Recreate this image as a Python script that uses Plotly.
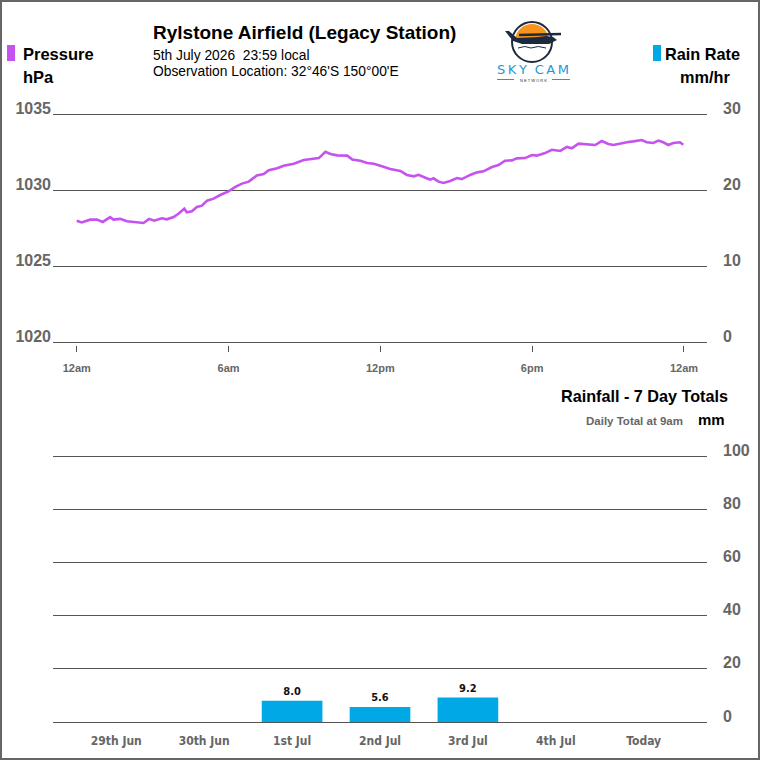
import math
import plotly.graph_objects as go

# ---------------- data ----------------
hours = [0.0, 0.2, 0.53, 0.8, 1.03, 1.32, 1.45, 1.72, 1.98, 2.24, 2.64, 2.86, 3.06, 3.36, 3.56,
         3.83, 4.02, 4.25, 4.35, 4.55, 4.75, 4.95, 5.15, 5.41, 5.67, 6.0, 6.27, 6.53, 6.8,
         7.12, 7.39, 7.59, 7.92, 8.18, 8.58, 8.97, 9.37, 9.57, 9.83, 10.03, 10.29, 10.69,
         10.89, 11.21, 11.48, 11.74, 12.0, 12.39, 12.79, 13.05, 13.32, 13.51, 13.78, 13.97,
         14.1, 14.3, 14.5, 14.76, 15.03, 15.22, 15.55, 15.82, 16.08, 16.41, 16.67, 16.93,
         17.2, 17.39, 17.72, 17.99, 18.18, 18.51, 18.78, 19.11, 19.37, 19.57, 19.83, 20.16,
         20.49, 20.75, 21.01, 21.21, 21.47, 21.8, 22.0, 22.33, 22.53, 22.79, 22.99, 23.18,
         23.38, 23.58, 23.84, 23.97]
pressure = [1027.98, 1027.87, 1028.05, 1028.05, 1027.9, 1028.22, 1028.05, 1028.1, 1027.94,
            1027.9, 1027.83, 1028.1, 1027.98, 1028.14, 1028.07, 1028.22, 1028.44, 1028.77,
            1028.53, 1028.6, 1028.88, 1028.97, 1029.3, 1029.43, 1029.67, 1029.91, 1030.2,
            1030.42, 1030.55, 1030.96, 1031.05, 1031.3, 1031.43, 1031.6, 1031.73, 1031.97,
            1032.06, 1032.1, 1032.52, 1032.37, 1032.28, 1032.26, 1032.0, 1031.93, 1031.78,
            1031.73, 1031.6, 1031.38, 1031.25, 1030.99, 1030.9, 1031.0, 1030.81, 1030.68,
            1030.77, 1030.55, 1030.46, 1030.59, 1030.79, 1030.72, 1030.99, 1031.16, 1031.23,
            1031.51, 1031.64, 1031.93, 1031.95, 1032.08, 1032.1, 1032.3, 1032.26, 1032.43,
            1032.65, 1032.57, 1032.83, 1032.74, 1033.05, 1033.0, 1032.96, 1033.22, 1033.03,
            1032.96, 1033.07, 1033.16, 1033.2, 1033.29, 1033.14, 1033.09, 1033.25, 1033.14,
            1032.96, 1033.09, 1033.14, 1032.98]
rain_rate_hours = []
rain_rate = []

time_tickvals = [0, 6, 12, 18, 24]
time_ticktext = ["12am", "6am", "12pm", "6pm", "12am"]
pressure_ticks = [1020, 1025, 1030, 1035]
rate_ticks = [0, 10, 20, 30]

days = ["29th Jun", "30th Jun", "1st Jul", "2nd Jul", "3rd Jul", "4th Jul", "Today"]
rain_totals = [0.0, 0.0, 8.0, 5.6, 9.2, 0.0, 0.0]
rain_ticks = [0, 20, 40, 60, 80, 100]

# ---------------- style ----------------
W = H = 760
PURPLE = "#c652ef"
BLUE = "#00a8e6"
NAVY = "#1c2a3e"
LOGO_BLUE = "#1e9ad6"
GRID = "#555555"
TICK = "#666666"
FONT = "Liberation Sans"
NARROW = "Liberation Sans Narrow, DejaVu Sans Condensed, Roboto Condensed, Liberation Sans"


def px(x):
    return x / W


def py(y):
    return 1 - y / H


fig = go.Figure()

fig.add_trace(go.Scatter(x=hours, y=pressure, mode="lines",
                         line=dict(color=PURPLE, width=2.6),
                         xaxis="x", yaxis="y", showlegend=False, hoverinfo="skip"))
fig.add_trace(go.Scatter(x=rain_rate_hours, y=rain_rate, mode="lines",
                         line=dict(color=BLUE, width=2),
                         xaxis="x", yaxis="y2", showlegend=False, hoverinfo="skip"))

bar_text = [f"{v:.1f}" if v > 0 else "" for v in rain_totals]
fig.add_trace(go.Bar(x=days, y=rain_totals, marker=dict(color=BLUE, line=dict(width=0)),
                     width=0.69, text=bar_text, textposition="outside",
                     textfont=dict(family=NARROW, size=11, color="#111111", weight="bold"),
                     cliponaxis=False,
                     xaxis="x2", yaxis="y3", showlegend=False, hoverinfo="skip"))

xdom = [px(53), px(707)]
ytickfont = dict(family=FONT, size=16, color=TICK, weight="bold")

# padding (in data units) so the edge gridlines are drawn inside the plot area
top_px_per = (342 - 114) / 15.0
pad_top = 0.2  # hPa
bot_px_per = (722 - 456) / 100.0
pad_bot = 1.1  # mm

fig.update_layout(
    width=W, height=H, autosize=False,
    margin=dict(l=0, r=0, t=0, b=0, pad=0, autoexpand=False),
    paper_bgcolor="white", plot_bgcolor="white",
    font=dict(family=FONT),
    xaxis=dict(domain=xdom, range=[-0.937, 24.91], tickvals=time_tickvals, ticktext=time_ticktext,
               showgrid=False, zeroline=False, showline=False,
               ticks="outside", ticklen=6, tickcolor=GRID, tickwidth=1,
               tickfont=dict(family=FONT, size=11, color=TICK, weight="bold"),
               ticklabelstandoff=7, anchor="y", automargin=False),
    yaxis=dict(domain=[py(342 + pad_top * top_px_per), py(114 - pad_top * top_px_per)],
               range=[1020 - pad_top, 1035 + pad_top], tickvals=pressure_ticks,
               showgrid=True, gridcolor=GRID, gridwidth=1, zeroline=False, showline=False,
               ticks="", tickfont=ytickfont, ticklabelstandoff=1, ticklabelshift=-6,
               anchor="x", automargin=False),
    yaxis2=dict(overlaying="y", side="right", range=[0 - 2 * pad_top, 30 + 2 * pad_top],
                tickvals=rate_ticks,
                showgrid=False, zeroline=False, showline=False, ticks="",
                tickfont=ytickfont, ticklabelstandoff=15, ticklabelshift=-6, anchor="x",
                automargin=False),
    xaxis2=dict(domain=xdom, range=[-0.72, 6.72], type="category",
                showgrid=False, zeroline=False, showline=False, ticks="",
                tickfont=dict(family=NARROW, size=12, color=TICK, weight="bold"),
                ticklabelstandoff=7, anchor="y3", automargin=False),
    yaxis3=dict(domain=[py(722 + pad_bot * bot_px_per), py(456 - pad_bot * bot_px_per)],
                range=[0 - pad_bot, 100 + pad_bot], tickvals=rain_ticks, side="right",
                showgrid=True, gridcolor=GRID, gridwidth=1, zeroline=False, showline=False,
                ticks="", tickfont=ytickfont, ticklabelstandoff=15, ticklabelshift=-6,
                anchor="x2", automargin=False),
    bargap=0.3,
)

shapes = []
# outer border
shapes.append(dict(type="rect", xref="paper", yref="paper", x0=px(1), x1=px(759), y0=py(759), y1=py(1),
                   line=dict(color="#666666", width=2), fillcolor="rgba(0,0,0,0)"))
# legend swatches
shapes.append(dict(type="rect", xref="paper", yref="paper", x0=px(7), x1=px(15), y0=py(61), y1=py(45),
                   line=dict(width=0), fillcolor=PURPLE))
shapes.append(dict(type="rect", xref="paper", yref="paper", x0=px(653), x1=px(661), y0=py(61), y1=py(45),
                   line=dict(width=0), fillcolor=BLUE))

# logo (decorative)
cx, cy, r = 532, 42, 20
sun = [(cx + 17 * math.cos(math.radians(a)), cy - 1 - 17 * math.sin(math.radians(a)))
       for a in range(0, 181, 10)]
shapes.append(dict(type="path", xref="paper", yref="paper",
                   path="M " + " L ".join(f"{px(a)},{py(b)}" for a, b in sun) + " Z",
                   fillcolor="#f7941d", line=dict(width=0)))
shapes.append(dict(type="circle", xref="paper", yref="paper", x0=px(cx - r), x1=px(cx + r),
                   y0=py(cy + r), y1=py(cy - r), line=dict(color=NAVY, width=2),
                   fillcolor="rgba(0,0,0,0)"))
plane = [(505, 31), (509, 31), (517, 38), (538, 37), (546, 36), (553, 37), (557, 40),
         (549, 44), (522, 44), (513, 41)]
shapes.append(dict(type="path", xref="paper", yref="paper",
                   path="M " + " L ".join(f"{px(a)},{py(b)}" for a, b in plane) + " Z",
                   fillcolor=NAVY, line=dict(width=0)))
shapes.append(dict(type="line", xref="paper", yref="paper", x0=px(519), x1=px(561), y0=py(35), y1=py(34),
                   line=dict(color=NAVY, width=2.5)))
shapes.append(dict(type="path", xref="paper", yref="paper",
                   path=f"M {px(518)},{py(48)} Q {px(525)},{py(45)} {px(531)},{py(48)} "
                        f"Q {px(538)},{py(45)} {px(546)},{py(48)}",
                   line=dict(color=NAVY, width=1)))
shapes.append(dict(type="line", xref="paper", yref="paper", x0=px(497), x1=px(514), y0=py(79.5), y1=py(79.5),
                   line=dict(color=LOGO_BLUE, width=1)))
shapes.append(dict(type="line", xref="paper", yref="paper", x0=px(552), x1=px(570), y0=py(79.5), y1=py(79.5),
                   line=dict(color=LOGO_BLUE, width=1)))

fig.update_layout(shapes=shapes)


def ann(text, x, y, size, color="black", bold=False, xanchor="left", family=FONT):
    return dict(text=text, xref="paper", yref="paper", x=px(x), y=py(y), xanchor=xanchor,
                yanchor="middle", showarrow=False,
                font=dict(family=family, size=size, color=color, weight="bold" if bold else "normal"))


thin = "\u2009"
annotations = [
    ann("Rylstone Airfield (Legacy Station)", 151, 32, 19, bold=True),
    ann("5th July 2026  23:59 local", 151, 55, 13.8),
    ann("Observation Location: 32°46'S 150°00'E", 151, 71, 13.8),
    ann("Pressure", 21, 54, 16.5, bold=True),
    ann("hPa", 21, 77, 16.5, bold=True),
    ann("Rain Rate", 742, 54, 16.3, bold=True, xanchor="right"),
    ann("mm/hr", 732, 77, 16.3, bold=True, xanchor="right"),
    ann("Rainfall - 7 Day Totals", 730, 396, 16.2, bold=True, xanchor="right"),
    ann("Daily Total at 9am", 685, 421, 11.5, color=TICK, bold=True, xanchor="right"),
    ann("mm", 727, 419, 15, bold=True, xanchor="right"),
    ann(thin.join("SKY") + thin * 3 + thin.join("CAM"), 533, 69.5, 13, color=LOGO_BLUE,
        xanchor="center", family="DejaVu Sans"),
    ann("N E T W O R K", 533, 80, 4, color=NAVY, xanchor="center"),
]
fig.update_layout(annotations=annotations)

fig.write_html("out.html")
